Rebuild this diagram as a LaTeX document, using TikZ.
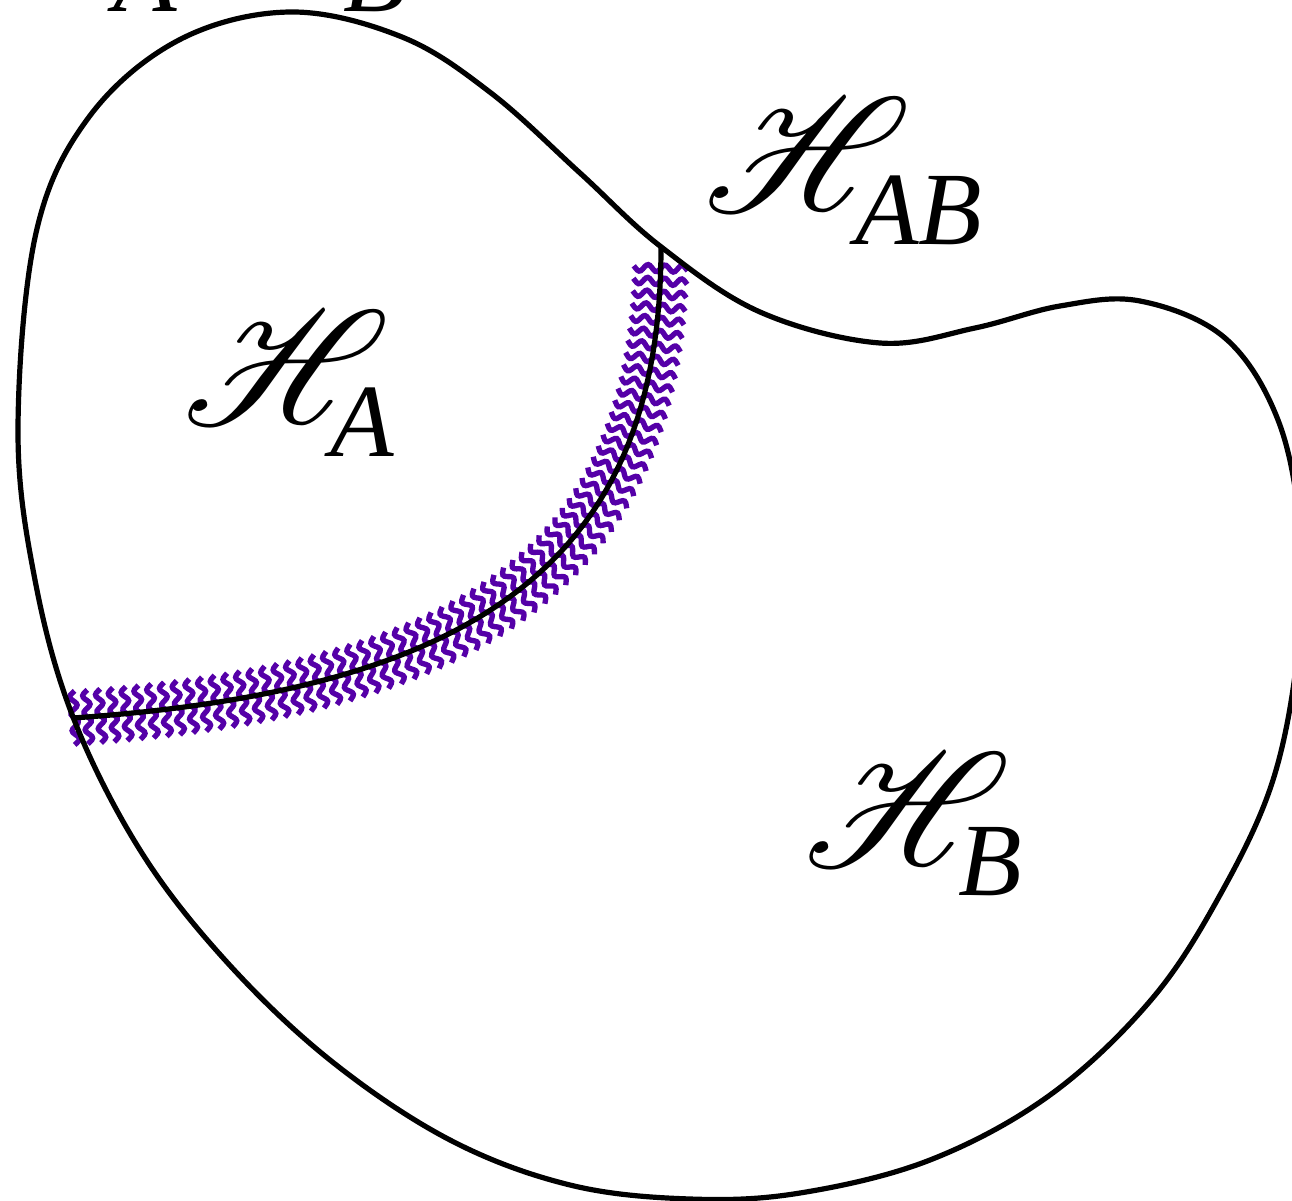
\documentclass[tikz,border=0pt]{standalone}
\usepackage{fontspec}
\setmainfont{Liberation Serif}
\newfontfamily\symbfont{DejaVu Serif}
\usetikzlibrary{decorations.markings}
\DeclareFontFamily{U}{myrsfs}{}
\DeclareFontShape{U}{myrsfs}{m}{n}{<-> rsfs10}{}
\newcommand{\bigscript}{\fontencoding{U}\fontfamily{myrsfs}\fontsize{122}{122}\selectfont}
\definecolor{bandpurple}{RGB}{85,0,168}
\tikzset{
  outline/.style={line width=3.9pt, black, line join=round},
  cutline/.style={line width=3.9pt, black},
  wave/.style={line width=4pt, bandpurple},
  scriptH/.style={inner sep=0pt, font=\bigscript},
  sublab/.style={inner sep=0pt, anchor=base west, font=\fontsize{78}{78}\selectfont\itshape},
}
\begin{document}
\begin{tikzpicture}[x=0.75pt, y=-0.75pt]
\useasboundingbox (0,0) rectangle (1292,1201);

% wavy band along the cut
\coordinate (cutTop) at (661,247);
\coordinate (cutEnd) at (73,718);
\path[decorate, decoration={markings,
    mark=between positions 16pt and 1 step 9.75pt with {
      \draw[wave] plot[smooth, domain=-27:27, samples=31, variable=\t] ({3.4*sin(\t*360/17)}, \t);
    }}]
  (cutTop) .. controls (661,560) and (480,690) .. (cutEnd);

% cut line
\draw[cutline] (cutTop) .. controls (661,560) and (480,690) .. (cutEnd);

% outline
\draw[outline] plot[smooth cycle, tension=0.6] coordinates {
  (290,12) (402,37) (491,93) (580,173) (660,246) (760,312) (880,343)
  (975,328) (1060,306) (1140,301) (1225,338) (1278,420) (1300,530) (1298,650)
  (1273,780) (1220,895) (1151,1000) (1050,1095) (930,1160) (800,1193)
  (690,1199) (570,1185) (450,1140) (330,1060) (225,960) (140,850)
  (73,717) (35,580) (18,430) (36,233) (89,117) (179,40)};

% labels
\node[scriptH] (HA) at (262,368) {H};
\node[sublab] (HAsub) at (330,457) {A};
\node[scriptH] (HAB) at (783,155) {H};
\node[sublab] (HABsub) at (855,245) {AB};
\node[scriptH] (HB) at (883,810) {H};
\node[sublab] (HBsub) at (958,895) {B};

% top label (mostly outside the frame)
\node[scriptH] (topH1) at (45,-80) {H};
\node[sublab] (topA) at (113,12) {A};
\node[inner sep=0pt, font=\symbfont\fontsize{50}{50}\selectfont] (topotimes) at (175,-62) {⊗};
\node[scriptH] (topH2) at (272,-62) {H};
\node[sublab] (topB) at (343,12) {B};
\end{tikzpicture}
\end{document}
